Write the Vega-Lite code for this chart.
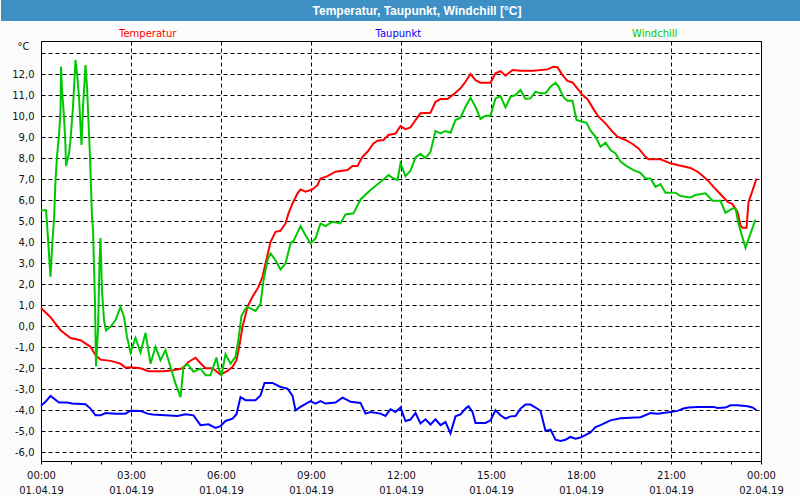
{
"$schema": "https://vega.github.io/schema/vega-lite/v6.json",
"background": "#fbfbfb",
"padding": 0,
"spacing": 20,
"columns": 1,
"bounds": "flush",
"center": true,
"resolve": {"legend": {"color": "independent"}},
"config": {"font": "DejaVu Sans", "view": {"stroke": null}},
"concat": [
{
 "width": 800, "height": 21,
 "data": {"values": [{}]},
 "view": {"fill": "#3d8fc4", "stroke": null},
 "mark": {"type": "text", "font": "Liberation Sans", "fontSize": 12, "fontWeight": "bold", "color": "#ffffff", "dx": 16},
 "encoding": {"text": {"value": "Temperatur, Taupunkt, Windchill [°C]"}}
},
{
 "width": 720, "height": 420,
 "view": {"fill": "#ffffff", "stroke": "#000000", "strokeWidth": 1},
 "data": {"values": [
{"t":"2019-04-01T00:00:00Z","s":"Temperatur","v":0.87},
{"t":"2019-04-01T00:19:00Z","s":"Temperatur","v":0.43},
{"t":"2019-04-01T00:39:00Z","s":"Temperatur","v":-0.19},
{"t":"2019-04-01T00:59:00Z","s":"Temperatur","v":-0.56},
{"t":"2019-04-01T01:19:00Z","s":"Temperatur","v":-0.67},
{"t":"2019-04-01T01:39:00Z","s":"Temperatur","v":-0.98},
{"t":"2019-04-01T01:49:00Z","s":"Temperatur","v":-1.38},
{"t":"2019-04-01T01:59:00Z","s":"Temperatur","v":-1.59},
{"t":"2019-04-01T02:19:00Z","s":"Temperatur","v":-1.65},
{"t":"2019-04-01T02:39:00Z","s":"Temperatur","v":-1.78},
{"t":"2019-04-01T02:49:00Z","s":"Temperatur","v":-1.97},
{"t":"2019-04-01T02:59:00Z","s":"Temperatur","v":-1.95},
{"t":"2019-04-01T03:19:00Z","s":"Temperatur","v":-2.0},
{"t":"2019-04-01T03:35:00Z","s":"Temperatur","v":-2.14},
{"t":"2019-04-01T04:05:00Z","s":"Temperatur","v":-2.14},
{"t":"2019-04-01T04:25:00Z","s":"Temperatur","v":-2.1},
{"t":"2019-04-01T04:43:00Z","s":"Temperatur","v":-2.0},
{"t":"2019-04-01T04:55:00Z","s":"Temperatur","v":-1.7},
{"t":"2019-04-01T05:09:00Z","s":"Temperatur","v":-1.5},
{"t":"2019-04-01T05:19:00Z","s":"Temperatur","v":-1.76},
{"t":"2019-04-01T05:29:00Z","s":"Temperatur","v":-2.0},
{"t":"2019-04-01T05:43:00Z","s":"Temperatur","v":-2.0},
{"t":"2019-04-01T05:59:00Z","s":"Temperatur","v":-2.3},
{"t":"2019-04-01T06:13:00Z","s":"Temperatur","v":-2.13},
{"t":"2019-04-01T06:23:00Z","s":"Temperatur","v":-1.93},
{"t":"2019-04-01T06:31:00Z","s":"Temperatur","v":-1.62},
{"t":"2019-04-01T06:37:00Z","s":"Temperatur","v":-0.9},
{"t":"2019-04-01T06:43:00Z","s":"Temperatur","v":-0.03},
{"t":"2019-04-01T06:53:00Z","s":"Temperatur","v":0.92},
{"t":"2019-04-01T07:03:00Z","s":"Temperatur","v":1.4},
{"t":"2019-04-01T07:15:00Z","s":"Temperatur","v":1.87},
{"t":"2019-04-01T07:23:00Z","s":"Temperatur","v":2.35},
{"t":"2019-04-01T07:29:00Z","s":"Temperatur","v":2.98},
{"t":"2019-04-01T07:39:00Z","s":"Temperatur","v":4.0},
{"t":"2019-04-01T07:49:00Z","s":"Temperatur","v":4.49},
{"t":"2019-04-01T07:59:00Z","s":"Temperatur","v":4.54},
{"t":"2019-04-01T08:09:00Z","s":"Temperatur","v":4.89},
{"t":"2019-04-01T08:15:00Z","s":"Temperatur","v":5.37},
{"t":"2019-04-01T08:23:00Z","s":"Temperatur","v":5.84},
{"t":"2019-04-01T08:33:00Z","s":"Temperatur","v":6.32},
{"t":"2019-04-01T08:39:00Z","s":"Temperatur","v":6.51},
{"t":"2019-04-01T08:49:00Z","s":"Temperatur","v":6.4},
{"t":"2019-04-01T09:03:00Z","s":"Temperatur","v":6.51},
{"t":"2019-04-01T09:13:00Z","s":"Temperatur","v":6.71},
{"t":"2019-04-01T09:19:00Z","s":"Temperatur","v":7.03},
{"t":"2019-04-01T09:33:00Z","s":"Temperatur","v":7.14},
{"t":"2019-04-01T09:49:00Z","s":"Temperatur","v":7.35},
{"t":"2019-04-01T10:13:00Z","s":"Temperatur","v":7.43},
{"t":"2019-04-01T10:23:00Z","s":"Temperatur","v":7.62},
{"t":"2019-04-01T10:33:00Z","s":"Temperatur","v":7.62},
{"t":"2019-04-01T10:43:00Z","s":"Temperatur","v":8.06},
{"t":"2019-04-01T10:53:00Z","s":"Temperatur","v":8.3},
{"t":"2019-04-01T11:05:00Z","s":"Temperatur","v":8.7},
{"t":"2019-04-01T11:13:00Z","s":"Temperatur","v":8.83},
{"t":"2019-04-01T11:25:00Z","s":"Temperatur","v":8.86},
{"t":"2019-04-01T11:35:00Z","s":"Temperatur","v":9.1},
{"t":"2019-04-01T11:49:00Z","s":"Temperatur","v":9.17},
{"t":"2019-04-01T11:59:00Z","s":"Temperatur","v":9.52},
{"t":"2019-04-01T12:09:00Z","s":"Temperatur","v":9.38},
{"t":"2019-04-01T12:19:00Z","s":"Temperatur","v":9.46},
{"t":"2019-04-01T12:29:00Z","s":"Temperatur","v":9.81},
{"t":"2019-04-01T12:39:00Z","s":"Temperatur","v":10.13},
{"t":"2019-04-01T12:59:00Z","s":"Temperatur","v":10.16},
{"t":"2019-04-01T13:09:00Z","s":"Temperatur","v":10.68},
{"t":"2019-04-01T13:19:00Z","s":"Temperatur","v":10.81},
{"t":"2019-04-01T13:33:00Z","s":"Temperatur","v":10.81},
{"t":"2019-04-01T13:45:00Z","s":"Temperatur","v":11.03},
{"t":"2019-04-01T13:59:00Z","s":"Temperatur","v":11.32},
{"t":"2019-04-01T14:09:00Z","s":"Temperatur","v":11.63},
{"t":"2019-04-01T14:19:00Z","s":"Temperatur","v":12.0},
{"t":"2019-04-01T14:29:00Z","s":"Temperatur","v":11.71},
{"t":"2019-04-01T14:39:00Z","s":"Temperatur","v":11.59},
{"t":"2019-04-01T14:59:00Z","s":"Temperatur","v":11.59},
{"t":"2019-04-01T15:09:00Z","s":"Temperatur","v":12.03},
{"t":"2019-04-01T15:19:00Z","s":"Temperatur","v":12.14},
{"t":"2019-04-01T15:29:00Z","s":"Temperatur","v":11.92},
{"t":"2019-04-01T15:43:00Z","s":"Temperatur","v":12.19},
{"t":"2019-04-01T15:59:00Z","s":"Temperatur","v":12.16},
{"t":"2019-04-01T16:25:00Z","s":"Temperatur","v":12.16},
{"t":"2019-04-01T16:53:00Z","s":"Temperatur","v":12.22},
{"t":"2019-04-01T17:05:00Z","s":"Temperatur","v":12.35},
{"t":"2019-04-01T17:13:00Z","s":"Temperatur","v":12.32},
{"t":"2019-04-01T17:23:00Z","s":"Temperatur","v":11.95},
{"t":"2019-04-01T17:33:00Z","s":"Temperatur","v":11.67},
{"t":"2019-04-01T17:43:00Z","s":"Temperatur","v":11.6},
{"t":"2019-04-01T17:53:00Z","s":"Temperatur","v":11.3},
{"t":"2019-04-01T18:03:00Z","s":"Temperatur","v":11.0},
{"t":"2019-04-01T18:13:00Z","s":"Temperatur","v":10.8},
{"t":"2019-04-01T18:25:00Z","s":"Temperatur","v":10.33},
{"t":"2019-04-01T18:35:00Z","s":"Temperatur","v":9.97},
{"t":"2019-04-01T18:49:00Z","s":"Temperatur","v":9.65},
{"t":"2019-04-01T19:03:00Z","s":"Temperatur","v":9.25},
{"t":"2019-04-01T19:13:00Z","s":"Temperatur","v":9.02},
{"t":"2019-04-01T19:29:00Z","s":"Temperatur","v":8.86},
{"t":"2019-04-01T19:43:00Z","s":"Temperatur","v":8.67},
{"t":"2019-04-01T19:55:00Z","s":"Temperatur","v":8.46},
{"t":"2019-04-01T20:09:00Z","s":"Temperatur","v":8.06},
{"t":"2019-04-01T20:15:00Z","s":"Temperatur","v":7.94},
{"t":"2019-04-01T20:39:00Z","s":"Temperatur","v":7.94},
{"t":"2019-04-01T20:59:00Z","s":"Temperatur","v":7.75},
{"t":"2019-04-01T21:13:00Z","s":"Temperatur","v":7.67},
{"t":"2019-04-01T21:39:00Z","s":"Temperatur","v":7.53},
{"t":"2019-04-01T21:53:00Z","s":"Temperatur","v":7.35},
{"t":"2019-04-01T21:59:00Z","s":"Temperatur","v":7.24},
{"t":"2019-04-01T22:13:00Z","s":"Temperatur","v":6.95},
{"t":"2019-04-01T22:25:00Z","s":"Temperatur","v":6.63},
{"t":"2019-04-01T22:39:00Z","s":"Temperatur","v":6.28},
{"t":"2019-04-01T22:53:00Z","s":"Temperatur","v":5.92},
{"t":"2019-04-01T23:03:00Z","s":"Temperatur","v":5.81},
{"t":"2019-04-01T23:13:00Z","s":"Temperatur","v":5.44},
{"t":"2019-04-01T23:19:00Z","s":"Temperatur","v":4.8},
{"t":"2019-04-01T23:23:00Z","s":"Temperatur","v":4.68},
{"t":"2019-04-01T23:31:00Z","s":"Temperatur","v":4.68},
{"t":"2019-04-01T23:35:00Z","s":"Temperatur","v":5.9},
{"t":"2019-04-01T23:43:00Z","s":"Temperatur","v":6.45},
{"t":"2019-04-01T23:51:00Z","s":"Temperatur","v":7.03},
{"t":"2019-04-01T00:00:00Z","s":"Taupunkt","v":-3.79},
{"t":"2019-04-01T00:09:00Z","s":"Taupunkt","v":-3.6},
{"t":"2019-04-01T00:19:00Z","s":"Taupunkt","v":-3.32},
{"t":"2019-04-01T00:36:00Z","s":"Taupunkt","v":-3.63},
{"t":"2019-04-01T00:52:00Z","s":"Taupunkt","v":-3.63},
{"t":"2019-04-01T01:02:00Z","s":"Taupunkt","v":-3.68},
{"t":"2019-04-01T01:29:00Z","s":"Taupunkt","v":-3.71},
{"t":"2019-04-01T01:39:00Z","s":"Taupunkt","v":-3.92},
{"t":"2019-04-01T01:49:00Z","s":"Taupunkt","v":-4.24},
{"t":"2019-04-01T01:59:00Z","s":"Taupunkt","v":-4.24},
{"t":"2019-04-01T02:09:00Z","s":"Taupunkt","v":-4.13},
{"t":"2019-04-01T02:29:00Z","s":"Taupunkt","v":-4.16},
{"t":"2019-04-01T02:49:00Z","s":"Taupunkt","v":-4.16},
{"t":"2019-04-01T02:59:00Z","s":"Taupunkt","v":-4.02},
{"t":"2019-04-01T03:19:00Z","s":"Taupunkt","v":-4.03},
{"t":"2019-04-01T03:33:00Z","s":"Taupunkt","v":-4.16},
{"t":"2019-04-01T03:43:00Z","s":"Taupunkt","v":-4.2},
{"t":"2019-04-01T04:33:00Z","s":"Taupunkt","v":-4.27},
{"t":"2019-04-01T04:49:00Z","s":"Taupunkt","v":-4.19},
{"t":"2019-04-01T05:05:00Z","s":"Taupunkt","v":-4.24},
{"t":"2019-04-01T05:19:00Z","s":"Taupunkt","v":-4.71},
{"t":"2019-04-01T05:35:00Z","s":"Taupunkt","v":-4.67},
{"t":"2019-04-01T05:49:00Z","s":"Taupunkt","v":-4.84},
{"t":"2019-04-01T05:59:00Z","s":"Taupunkt","v":-4.76},
{"t":"2019-04-01T06:09:00Z","s":"Taupunkt","v":-4.51},
{"t":"2019-04-01T06:23:00Z","s":"Taupunkt","v":-4.4},
{"t":"2019-04-01T06:31:00Z","s":"Taupunkt","v":-4.19},
{"t":"2019-04-01T06:39:00Z","s":"Taupunkt","v":-3.37},
{"t":"2019-04-01T06:49:00Z","s":"Taupunkt","v":-3.52},
{"t":"2019-04-01T07:09:00Z","s":"Taupunkt","v":-3.52},
{"t":"2019-04-01T07:19:00Z","s":"Taupunkt","v":-3.29},
{"t":"2019-04-01T07:27:00Z","s":"Taupunkt","v":-2.7},
{"t":"2019-04-01T07:43:00Z","s":"Taupunkt","v":-2.7},
{"t":"2019-04-01T07:59:00Z","s":"Taupunkt","v":-2.89},
{"t":"2019-04-01T08:13:00Z","s":"Taupunkt","v":-2.97},
{"t":"2019-04-01T08:23:00Z","s":"Taupunkt","v":-3.3},
{"t":"2019-04-01T08:29:00Z","s":"Taupunkt","v":-4.0},
{"t":"2019-04-01T08:39:00Z","s":"Taupunkt","v":-3.84},
{"t":"2019-04-01T08:59:00Z","s":"Taupunkt","v":-3.56},
{"t":"2019-04-01T09:09:00Z","s":"Taupunkt","v":-3.68},
{"t":"2019-04-01T09:19:00Z","s":"Taupunkt","v":-3.56},
{"t":"2019-04-01T09:29:00Z","s":"Taupunkt","v":-3.68},
{"t":"2019-04-01T09:49:00Z","s":"Taupunkt","v":-3.63},
{"t":"2019-04-01T10:03:00Z","s":"Taupunkt","v":-3.4},
{"t":"2019-04-01T10:13:00Z","s":"Taupunkt","v":-3.52},
{"t":"2019-04-01T10:19:00Z","s":"Taupunkt","v":-3.6},
{"t":"2019-04-01T10:39:00Z","s":"Taupunkt","v":-3.65},
{"t":"2019-04-01T10:49:00Z","s":"Taupunkt","v":-4.16},
{"t":"2019-04-01T10:59:00Z","s":"Taupunkt","v":-4.08},
{"t":"2019-04-01T11:19:00Z","s":"Taupunkt","v":-4.16},
{"t":"2019-04-01T11:29:00Z","s":"Taupunkt","v":-4.27},
{"t":"2019-04-01T11:39:00Z","s":"Taupunkt","v":-3.95},
{"t":"2019-04-01T11:49:00Z","s":"Taupunkt","v":-4.08},
{"t":"2019-04-01T11:59:00Z","s":"Taupunkt","v":-3.87},
{"t":"2019-04-01T12:09:00Z","s":"Taupunkt","v":-4.51},
{"t":"2019-04-01T12:19:00Z","s":"Taupunkt","v":-4.44},
{"t":"2019-04-01T12:29:00Z","s":"Taupunkt","v":-4.13},
{"t":"2019-04-01T12:39:00Z","s":"Taupunkt","v":-4.63},
{"t":"2019-04-01T12:49:00Z","s":"Taupunkt","v":-4.43},
{"t":"2019-04-01T12:59:00Z","s":"Taupunkt","v":-4.68},
{"t":"2019-04-01T13:09:00Z","s":"Taupunkt","v":-4.43},
{"t":"2019-04-01T13:19:00Z","s":"Taupunkt","v":-4.71},
{"t":"2019-04-01T13:29:00Z","s":"Taupunkt","v":-4.56},
{"t":"2019-04-01T13:39:00Z","s":"Taupunkt","v":-5.1},
{"t":"2019-04-01T13:49:00Z","s":"Taupunkt","v":-4.29},
{"t":"2019-04-01T13:59:00Z","s":"Taupunkt","v":-4.2},
{"t":"2019-04-01T14:09:00Z","s":"Taupunkt","v":-3.92},
{"t":"2019-04-01T14:15:00Z","s":"Taupunkt","v":-3.81},
{"t":"2019-04-01T14:23:00Z","s":"Taupunkt","v":-4.08},
{"t":"2019-04-01T14:29:00Z","s":"Taupunkt","v":-4.6},
{"t":"2019-04-01T14:49:00Z","s":"Taupunkt","v":-4.6},
{"t":"2019-04-01T14:59:00Z","s":"Taupunkt","v":-4.48},
{"t":"2019-04-01T15:09:00Z","s":"Taupunkt","v":-4.0},
{"t":"2019-04-01T15:19:00Z","s":"Taupunkt","v":-4.24},
{"t":"2019-04-01T15:29:00Z","s":"Taupunkt","v":-4.4},
{"t":"2019-04-01T15:39:00Z","s":"Taupunkt","v":-4.29},
{"t":"2019-04-01T15:49:00Z","s":"Taupunkt","v":-4.27},
{"t":"2019-04-01T15:59:00Z","s":"Taupunkt","v":-3.92},
{"t":"2019-04-01T16:09:00Z","s":"Taupunkt","v":-3.73},
{"t":"2019-04-01T16:19:00Z","s":"Taupunkt","v":-3.73},
{"t":"2019-04-01T16:29:00Z","s":"Taupunkt","v":-3.87},
{"t":"2019-04-01T16:39:00Z","s":"Taupunkt","v":-4.03},
{"t":"2019-04-01T16:49:00Z","s":"Taupunkt","v":-4.98},
{"t":"2019-04-01T16:59:00Z","s":"Taupunkt","v":-4.92},
{"t":"2019-04-01T17:09:00Z","s":"Taupunkt","v":-5.4},
{"t":"2019-04-01T17:19:00Z","s":"Taupunkt","v":-5.46},
{"t":"2019-04-01T17:29:00Z","s":"Taupunkt","v":-5.4},
{"t":"2019-04-01T17:39:00Z","s":"Taupunkt","v":-5.27},
{"t":"2019-04-01T17:49:00Z","s":"Taupunkt","v":-5.35},
{"t":"2019-04-01T17:59:00Z","s":"Taupunkt","v":-5.3},
{"t":"2019-04-01T18:19:00Z","s":"Taupunkt","v":-5.05},
{"t":"2019-04-01T18:29:00Z","s":"Taupunkt","v":-4.8},
{"t":"2019-04-01T18:39:00Z","s":"Taupunkt","v":-4.71},
{"t":"2019-04-01T18:59:00Z","s":"Taupunkt","v":-4.48},
{"t":"2019-04-01T19:19:00Z","s":"Taupunkt","v":-4.38},
{"t":"2019-04-01T19:59:00Z","s":"Taupunkt","v":-4.33},
{"t":"2019-04-01T20:19:00Z","s":"Taupunkt","v":-4.13},
{"t":"2019-04-01T20:33:00Z","s":"Taupunkt","v":-4.16},
{"t":"2019-04-01T20:59:00Z","s":"Taupunkt","v":-4.08},
{"t":"2019-04-01T21:13:00Z","s":"Taupunkt","v":-4.03},
{"t":"2019-04-01T21:25:00Z","s":"Taupunkt","v":-3.92},
{"t":"2019-04-01T21:35:00Z","s":"Taupunkt","v":-3.87},
{"t":"2019-04-01T21:53:00Z","s":"Taupunkt","v":-3.84},
{"t":"2019-04-01T22:25:00Z","s":"Taupunkt","v":-3.84},
{"t":"2019-04-01T22:33:00Z","s":"Taupunkt","v":-3.89},
{"t":"2019-04-01T22:49:00Z","s":"Taupunkt","v":-3.87},
{"t":"2019-04-01T22:59:00Z","s":"Taupunkt","v":-3.76},
{"t":"2019-04-01T23:13:00Z","s":"Taupunkt","v":-3.76},
{"t":"2019-04-01T23:33:00Z","s":"Taupunkt","v":-3.81},
{"t":"2019-04-01T23:43:00Z","s":"Taupunkt","v":-3.87},
{"t":"2019-04-01T23:51:00Z","s":"Taupunkt","v":-4.0},
{"t":"2019-04-01T00:00:00Z","s":"Windchill","v":5.52},
{"t":"2019-04-01T00:10:00Z","s":"Windchill","v":5.52},
{"t":"2019-04-01T00:12:00Z","s":"Windchill","v":4.9},
{"t":"2019-04-01T00:19:00Z","s":"Windchill","v":2.35},
{"t":"2019-04-01T00:23:00Z","s":"Windchill","v":4.1},
{"t":"2019-04-01T00:26:00Z","s":"Windchill","v":5.05},
{"t":"2019-04-01T00:29:00Z","s":"Windchill","v":6.95},
{"t":"2019-04-01T00:32:00Z","s":"Windchill","v":8.06},
{"t":"2019-04-01T00:36:00Z","s":"Windchill","v":9.1},
{"t":"2019-04-01T00:39:00Z","s":"Windchill","v":10.2},
{"t":"2019-04-01T00:40:00Z","s":"Windchill","v":12.35},
{"t":"2019-04-01T00:42:00Z","s":"Windchill","v":11.24},
{"t":"2019-04-01T00:46:00Z","s":"Windchill","v":9.97},
{"t":"2019-04-01T00:49:00Z","s":"Windchill","v":8.54},
{"t":"2019-04-01T00:50:00Z","s":"Windchill","v":7.62},
{"t":"2019-04-01T00:56:00Z","s":"Windchill","v":8.22},
{"t":"2019-04-01T00:59:00Z","s":"Windchill","v":8.86},
{"t":"2019-04-01T01:04:00Z","s":"Windchill","v":10.44},
{"t":"2019-04-01T01:09:00Z","s":"Windchill","v":12.67},
{"t":"2019-04-01T01:12:00Z","s":"Windchill","v":12.03},
{"t":"2019-04-01T01:16:00Z","s":"Windchill","v":10.92},
{"t":"2019-04-01T01:19:00Z","s":"Windchill","v":9.49},
{"t":"2019-04-01T01:21:00Z","s":"Windchill","v":8.62},
{"t":"2019-04-01T01:24:00Z","s":"Windchill","v":10.44},
{"t":"2019-04-01T01:29:00Z","s":"Windchill","v":12.43},
{"t":"2019-04-01T01:32:00Z","s":"Windchill","v":11.4},
{"t":"2019-04-01T01:34:00Z","s":"Windchill","v":10.29},
{"t":"2019-04-01T01:38:00Z","s":"Windchill","v":8.06},
{"t":"2019-04-01T01:40:00Z","s":"Windchill","v":6.63},
{"t":"2019-04-01T01:42:00Z","s":"Windchill","v":5.2},
{"t":"2019-04-01T01:44:00Z","s":"Windchill","v":4.6},
{"t":"2019-04-01T01:48:00Z","s":"Windchill","v":1.1},
{"t":"2019-04-01T01:50:00Z","s":"Windchill","v":-1.9},
{"t":"2019-04-01T01:54:00Z","s":"Windchill","v":-0.2},
{"t":"2019-04-01T01:57:00Z","s":"Windchill","v":3.0},
{"t":"2019-04-01T01:59:00Z","s":"Windchill","v":4.2},
{"t":"2019-04-01T02:02:00Z","s":"Windchill","v":1.7},
{"t":"2019-04-01T02:06:00Z","s":"Windchill","v":0.29},
{"t":"2019-04-01T02:10:00Z","s":"Windchill","v":-0.2},
{"t":"2019-04-01T02:19:00Z","s":"Windchill","v":-0.03},
{"t":"2019-04-01T02:29:00Z","s":"Windchill","v":0.29},
{"t":"2019-04-01T02:39:00Z","s":"Windchill","v":0.92},
{"t":"2019-04-01T02:46:00Z","s":"Windchill","v":0.44},
{"t":"2019-04-01T02:52:00Z","s":"Windchill","v":-0.51},
{"t":"2019-04-01T02:59:00Z","s":"Windchill","v":-1.25},
{"t":"2019-04-01T03:09:00Z","s":"Windchill","v":-0.55},
{"t":"2019-04-01T03:19:00Z","s":"Windchill","v":-1.25},
{"t":"2019-04-01T03:29:00Z","s":"Windchill","v":-0.32},
{"t":"2019-04-01T03:39:00Z","s":"Windchill","v":-1.78},
{"t":"2019-04-01T03:49:00Z","s":"Windchill","v":-0.98},
{"t":"2019-04-01T03:59:00Z","s":"Windchill","v":-1.62},
{"t":"2019-04-01T04:09:00Z","s":"Windchill","v":-1.14},
{"t":"2019-04-01T04:19:00Z","s":"Windchill","v":-1.94},
{"t":"2019-04-01T04:29:00Z","s":"Windchill","v":-2.73},
{"t":"2019-04-01T04:39:00Z","s":"Windchill","v":-3.37},
{"t":"2019-04-01T04:45:00Z","s":"Windchill","v":-1.94},
{"t":"2019-04-01T04:53:00Z","s":"Windchill","v":-1.81},
{"t":"2019-04-01T05:05:00Z","s":"Windchill","v":-2.17},
{"t":"2019-04-01T05:19:00Z","s":"Windchill","v":-2.02},
{"t":"2019-04-01T05:29:00Z","s":"Windchill","v":-2.33},
{"t":"2019-04-01T05:39:00Z","s":"Windchill","v":-2.33},
{"t":"2019-04-01T05:51:00Z","s":"Windchill","v":-1.49},
{"t":"2019-04-01T05:55:00Z","s":"Windchill","v":-2.02},
{"t":"2019-04-01T06:01:00Z","s":"Windchill","v":-2.33},
{"t":"2019-04-01T06:09:00Z","s":"Windchill","v":-1.33},
{"t":"2019-04-01T06:19:00Z","s":"Windchill","v":-1.78},
{"t":"2019-04-01T06:29:00Z","s":"Windchill","v":-1.46},
{"t":"2019-04-01T06:35:00Z","s":"Windchill","v":-0.6},
{"t":"2019-04-01T06:41:00Z","s":"Windchill","v":0.5},
{"t":"2019-04-01T06:49:00Z","s":"Windchill","v":0.84},
{"t":"2019-04-01T06:53:00Z","s":"Windchill","v":0.92},
{"t":"2019-04-01T07:09:00Z","s":"Windchill","v":0.73},
{"t":"2019-04-01T07:19:00Z","s":"Windchill","v":1.05},
{"t":"2019-04-01T07:25:00Z","s":"Windchill","v":2.19},
{"t":"2019-04-01T07:33:00Z","s":"Windchill","v":3.14},
{"t":"2019-04-01T07:39:00Z","s":"Windchill","v":3.46},
{"t":"2019-04-01T07:49:00Z","s":"Windchill","v":3.14},
{"t":"2019-04-01T07:59:00Z","s":"Windchill","v":2.7},
{"t":"2019-04-01T08:09:00Z","s":"Windchill","v":2.98},
{"t":"2019-04-01T08:19:00Z","s":"Windchill","v":3.94},
{"t":"2019-04-01T08:25:00Z","s":"Windchill","v":4.06},
{"t":"2019-04-01T08:39:00Z","s":"Windchill","v":4.76},
{"t":"2019-04-01T08:49:00Z","s":"Windchill","v":4.33},
{"t":"2019-04-01T08:59:00Z","s":"Windchill","v":3.94},
{"t":"2019-04-01T09:09:00Z","s":"Windchill","v":4.17},
{"t":"2019-04-01T09:19:00Z","s":"Windchill","v":4.89},
{"t":"2019-04-01T09:29:00Z","s":"Windchill","v":4.76},
{"t":"2019-04-01T09:43:00Z","s":"Windchill","v":4.97},
{"t":"2019-04-01T09:59:00Z","s":"Windchill","v":4.89},
{"t":"2019-04-01T10:09:00Z","s":"Windchill","v":5.32},
{"t":"2019-04-01T10:25:00Z","s":"Windchill","v":5.37},
{"t":"2019-04-01T10:39:00Z","s":"Windchill","v":6.03},
{"t":"2019-04-01T10:59:00Z","s":"Windchill","v":6.48},
{"t":"2019-04-01T11:25:00Z","s":"Windchill","v":6.98},
{"t":"2019-04-01T11:35:00Z","s":"Windchill","v":7.19},
{"t":"2019-04-01T11:45:00Z","s":"Windchill","v":7.03},
{"t":"2019-04-01T11:53:00Z","s":"Windchill","v":6.95},
{"t":"2019-04-01T11:59:00Z","s":"Windchill","v":7.75},
{"t":"2019-04-01T12:09:00Z","s":"Windchill","v":7.14},
{"t":"2019-04-01T12:19:00Z","s":"Windchill","v":7.4},
{"t":"2019-04-01T12:29:00Z","s":"Windchill","v":8.03},
{"t":"2019-04-01T12:39:00Z","s":"Windchill","v":8.2},
{"t":"2019-04-01T12:49:00Z","s":"Windchill","v":8.0},
{"t":"2019-04-01T12:59:00Z","s":"Windchill","v":8.3},
{"t":"2019-04-01T13:09:00Z","s":"Windchill","v":9.29},
{"t":"2019-04-01T13:19:00Z","s":"Windchill","v":9.17},
{"t":"2019-04-01T13:29:00Z","s":"Windchill","v":9.29},
{"t":"2019-04-01T13:39:00Z","s":"Windchill","v":9.21},
{"t":"2019-04-01T13:49:00Z","s":"Windchill","v":9.81},
{"t":"2019-04-01T13:59:00Z","s":"Windchill","v":9.92},
{"t":"2019-04-01T14:09:00Z","s":"Windchill","v":10.44},
{"t":"2019-04-01T14:19:00Z","s":"Windchill","v":10.87},
{"t":"2019-04-01T14:29:00Z","s":"Windchill","v":10.44},
{"t":"2019-04-01T14:39:00Z","s":"Windchill","v":9.86},
{"t":"2019-04-01T14:49:00Z","s":"Windchill","v":10.02},
{"t":"2019-04-01T14:59:00Z","s":"Windchill","v":10.02},
{"t":"2019-04-01T15:09:00Z","s":"Windchill","v":10.84},
{"t":"2019-04-01T15:19:00Z","s":"Windchill","v":10.95},
{"t":"2019-04-01T15:29:00Z","s":"Windchill","v":10.41},
{"t":"2019-04-01T15:39:00Z","s":"Windchill","v":10.92},
{"t":"2019-04-01T15:49:00Z","s":"Windchill","v":11.0},
{"t":"2019-04-01T15:59:00Z","s":"Windchill","v":11.24},
{"t":"2019-04-01T16:09:00Z","s":"Windchill","v":10.81},
{"t":"2019-04-01T16:19:00Z","s":"Windchill","v":10.84},
{"t":"2019-04-01T16:29:00Z","s":"Windchill","v":11.16},
{"t":"2019-04-01T16:39:00Z","s":"Windchill","v":11.08},
{"t":"2019-04-01T16:49:00Z","s":"Windchill","v":11.08},
{"t":"2019-04-01T16:59:00Z","s":"Windchill","v":11.4},
{"t":"2019-04-01T17:09:00Z","s":"Windchill","v":11.59},
{"t":"2019-04-01T17:15:00Z","s":"Windchill","v":11.4},
{"t":"2019-04-01T17:25:00Z","s":"Windchill","v":10.9},
{"t":"2019-04-01T17:33:00Z","s":"Windchill","v":10.73},
{"t":"2019-04-01T17:43:00Z","s":"Windchill","v":10.73},
{"t":"2019-04-01T17:51:00Z","s":"Windchill","v":9.81},
{"t":"2019-04-01T18:03:00Z","s":"Windchill","v":9.73},
{"t":"2019-04-01T18:11:00Z","s":"Windchill","v":9.68},
{"t":"2019-04-01T18:19:00Z","s":"Windchill","v":9.3},
{"t":"2019-04-01T18:29:00Z","s":"Windchill","v":9.02},
{"t":"2019-04-01T18:39:00Z","s":"Windchill","v":8.54},
{"t":"2019-04-01T18:49:00Z","s":"Windchill","v":8.73},
{"t":"2019-04-01T18:59:00Z","s":"Windchill","v":8.38},
{"t":"2019-04-01T19:09:00Z","s":"Windchill","v":8.22},
{"t":"2019-04-01T19:19:00Z","s":"Windchill","v":7.83},
{"t":"2019-04-01T19:33:00Z","s":"Windchill","v":7.59},
{"t":"2019-04-01T19:45:00Z","s":"Windchill","v":7.43},
{"t":"2019-04-01T19:59:00Z","s":"Windchill","v":7.3},
{"t":"2019-04-01T20:09:00Z","s":"Windchill","v":7.03},
{"t":"2019-04-01T20:19:00Z","s":"Windchill","v":7.03},
{"t":"2019-04-01T20:29:00Z","s":"Windchill","v":6.63},
{"t":"2019-04-01T20:39:00Z","s":"Windchill","v":6.76},
{"t":"2019-04-01T20:49:00Z","s":"Windchill","v":6.35},
{"t":"2019-04-01T21:09:00Z","s":"Windchill","v":6.35},
{"t":"2019-04-01T21:19:00Z","s":"Windchill","v":6.19},
{"t":"2019-04-01T21:39:00Z","s":"Windchill","v":6.13},
{"t":"2019-04-01T21:49:00Z","s":"Windchill","v":6.24},
{"t":"2019-04-01T22:09:00Z","s":"Windchill","v":6.32},
{"t":"2019-04-01T22:23:00Z","s":"Windchill","v":5.97},
{"t":"2019-04-01T22:39:00Z","s":"Windchill","v":5.97},
{"t":"2019-04-01T22:49:00Z","s":"Windchill","v":5.4},
{"t":"2019-04-01T23:03:00Z","s":"Windchill","v":5.6},
{"t":"2019-04-01T23:09:00Z","s":"Windchill","v":5.6},
{"t":"2019-04-01T23:15:00Z","s":"Windchill","v":4.89},
{"t":"2019-04-01T23:29:00Z","s":"Windchill","v":3.72},
{"t":"2019-04-01T23:39:00Z","s":"Windchill","v":4.41},
{"t":"2019-04-01T23:49:00Z","s":"Windchill","v":5.07}
 ]},
 "mark": {"type": "line", "strokeWidth": 2},
 "encoding": {
  "x": {"field": "t", "type": "temporal", "title": null,
   "scale": {"type": "utc", "domain": [1554076800000, 1554163200000]},
   "axis": {"values": [1554076800000,1554080400000,1554084000000,1554087600000,1554091200000,1554094800000,1554098400000,1554102000000,1554105600000,1554109200000,1554112800000,1554116400000,1554120000000,1554123600000,1554127200000,1554130800000,1554134400000,1554138000000,1554141600000,1554145200000,1554148800000,1554152400000,1554156000000,1554159600000,1554163200000],
    "labelExpr": "utchours(datum.value) % 3 === 0 ? [utcFormat(datum.value, '%H:%M'), utcFormat(datum.value, '%d.%m.%y')] : ''",
    "labelFlush": false, "labelOverlap": false, "labelBound": false,
    "domain": false, "ticks": true, "tickColor": "#000000", "tickSize": 3,
    "labelPadding": 6, "labelFontSize": 10, "labelFont": "DejaVu Sans", "labelColor": "#111111", "labelLineHeight": 15,
    "grid": true, "gridColor": "#000000", "gridDash": [4, 3],
    "gridOpacity": {"condition": {"test": "utchours(datum.value) % 3 === 0", "value": 1}, "value": 0}}},
  "y": {"field": "v", "type": "quantitative", "title": "°C",
   "scale": {"domain": [-6.414, 13.571], "nice": false, "zero": false},
   "axis": {"values": [-6,-5,-4,-3,-2,-1,0,1,2,3,4,5,6,7,8,9,10,11,12,13],
    "labelExpr": "datum.value > 12.5 ? '' : replace((datum.value < 0 ? '-' : '') + format(abs(datum.value), '.1f'), '.', ',')",
    "ticks": false, "domain": false, "grid": true, "gridColor": "#000000", "gridDash": [4, 3],
    "labelPadding": 7, "labelFontSize": 10, "labelFont": "DejaVu Sans", "labelColor": "#111111", "minExtent": 40,
    "titleAngle": 0, "titleX": -18, "titleY": 5, "titleAlign": "center", "titleBaseline": "middle",
    "titleFontWeight": "normal", "titleFontSize": 10, "titleFont": "DejaVu Sans", "titleColor": "#111111"}},
  "color": {"field": "s", "type": "nominal",
   "scale": {"domain": ["Temperatur", "Taupunkt", "Windchill"], "range": ["#ff0000", "#0000ff", "#00c800"]},
   "legend": {"orient": "none", "legendX": 68, "legendY": -12, "direction": "horizontal", "title": null, "padding": 0,
    "symbolSize": 0, "symbolOpacity": 0, "symbolStrokeWidth": 0, "labelOffset": 0,
    "labelFontSize": 10, "labelFont": "DejaVu Sans", "columnPadding": 188.5, "gridAlign": "all",
    "labelColor": {"expr": "datum.value === 'Temperatur' ? '#ff0000' : datum.value === 'Taupunkt' ? '#0000ff' : '#00c800'"}}}
 }
}
]
}
